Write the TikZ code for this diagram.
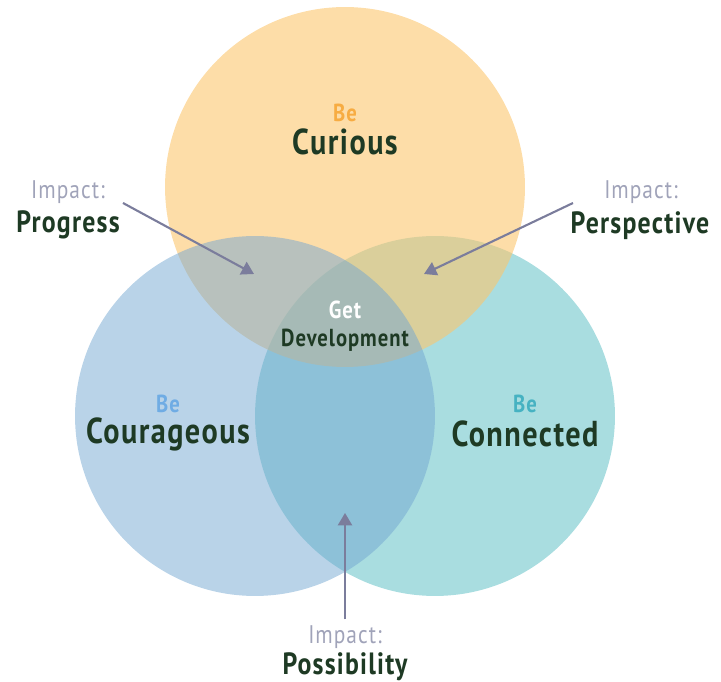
\documentclass[tikz,border=0pt]{standalone}
\usepackage{fontspec}
\setmainfont[FakeStretch=0.84, LetterSpace=4]{PT Sans}
\usepackage{tikz}
\usetikzlibrary{arrows.meta}

\definecolor{curiousfill}{RGB}{252,198,110}
\definecolor{couragefill}{RGB}{115,167,209}
\definecolor{connectfill}{RGB}{169,221,224}
\definecolor{curiousink}{RGB}{247,172,66}
\definecolor{courageink}{RGB}{111,172,228}
\definecolor{connectink}{RGB}{70,178,194}
\definecolor{headink}{RGB}{30,58,36}
\definecolor{impactink}{RGB}{160,163,185}
\definecolor{arrowink}{RGB}{123,125,156}

\tikzset{
  ring/.style={circle, minimum size=7.2cm, inner sep=0},
  be/.style={font=\fontsize{14}{14}\selectfont\bfseries},
  head/.style={font=\fontsize{20.5}{20}\selectfont\bfseries, text=headink},
  impact/.style={font=\fontsize{14.5}{14}\selectfont, text=impactink},
  result/.style={font=\fontsize{17.5}{17}\selectfont\bfseries, text=headink},
  pointer/.style={line width=1.2pt, arrowink, -{Triangle[length=7pt,width=8pt]}}
}

\begin{document}
\begin{tikzpicture}[x=0.02cm, y=-0.02cm]
\useasboundingbox (0,0) rectangle (721,682);

% the three circles
\node[ring, fill=connectfill] (connected) at (435,416) {};
\node[ring, fill=curiousfill, fill opacity=0.6] (curious) at (345,187) {};
\node[ring, fill=couragefill, fill opacity=0.5] (courageous) at (255,416) {};

% circle titles
\node[be, text=curiousink] (beCur) at (345,113) {Be};
\node[head] (curTxt) at (345,142) {Curious};
\node[be, text=courageink] (beCou) at (168,404) {Be};
\node[head] (couTxt) at (168,434) {Courageous};
\node[be, text=connectink] (beCon) at (525,404) {Be};
\node[head] (conTxt) at (525,434) {Connected};

% centre
\node[be, text=white] (get) at (345,310) {Get};
\node[be, text=headink] (dev) at (345,340) {Development};

% impacts
\node[impact] (impProg) at (68,192) {Impact:};
\node[result] (prog) at (68,225) {Progress};
\node[impact] (impPers) at (641,192) {Impact:};
\node[result] (pers) at (640,226) {Perspective};
\node[impact] (impPoss) at (345,637) {Impact:};
\node[result] (poss) at (345,667) {Possibility};

\coordinate (tailProg) at (123,203);
\coordinate (tipProg) at (254,274);
\coordinate (tailPers) at (573,203);
\coordinate (tipPers) at (424,274);
\coordinate (tipPoss) at (345,513);

\draw[pointer] (tailProg) -- (tipProg);
\draw[pointer] (tailPers) -- (tipPers);
\draw[pointer] (impPoss.north) -- (tipPoss);

\end{tikzpicture}
\end{document}
